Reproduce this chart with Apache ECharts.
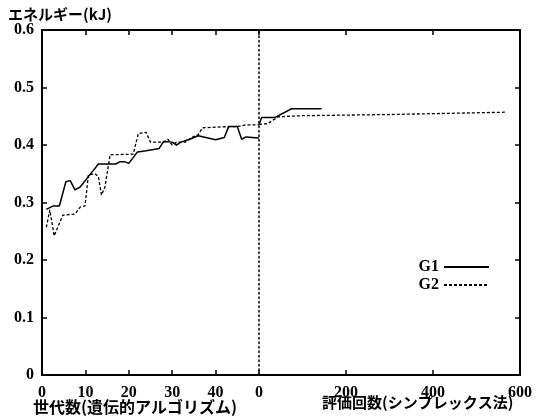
<!DOCTYPE html>
<html><head><meta charset="utf-8">
<script src="https://cdn.jsdelivr.net/npm/echarts@6/dist/echarts.min.js"></script>
<style>html,body{margin:0;padding:0;background:#fff}#c{width:544px;height:419px}</style>
</head><body><div id="c"></div>
<script>
// Genetic algorithm phase (generations)
const genG1 = [1, 2.6, 4, 5.5, 6.5, 7.6, 8.8, 11, 13, 17, 18, 19, 20, 22, 24, 27, 28, 30, 31, 32, 34, 36, 40, 42, 43, 45, 46, 47, 50];
const valG1 = [0.288, 0.294, 0.294, 0.336, 0.338, 0.322, 0.327, 0.348, 0.367, 0.367, 0.371, 0.371, 0.368, 0.388, 0.39, 0.394, 0.406, 0.405, 0.40, 0.405, 0.41, 0.416, 0.409, 0.413, 0.432, 0.432, 0.41, 0.414, 0.412];
const genG2 = [1, 1.8, 2.8, 4.8, 7.6, 8.8, 9.9, 10.7, 12.2, 13, 13.7, 14.5, 15.7, 21, 22.2, 24, 25, 28, 29, 30, 31, 33, 35, 36, 37, 43, 45, 47, 50];
const valG2 = [0.257, 0.287, 0.242, 0.278, 0.28, 0.292, 0.294, 0.348, 0.35, 0.345, 0.313, 0.327, 0.383, 0.384, 0.42, 0.422, 0.405, 0.405, 0.41, 0.40, 0.405, 0.405, 0.415, 0.418, 0.43, 0.432, 0.432, 0.435, 0.435];
// Simplex phase (evaluations)
const evalG1 = [0, 6, 37, 75, 144];
const simG1 = [0.435, 0.448, 0.448, 0.463, 0.463];
const evalG2 = [0, 20, 44, 100, 300, 565];
const simG2 = [0.436, 0.437, 0.449, 0.451, 0.453, 0.457];
const yTicks = [0, 0.1, 0.2, 0.3, 0.4, 0.5, 0.6];
const xTicksGA = [0, 10, 20, 30, 40];
const xTicksSimplex = [0, 200, 400, 600];

const zip = (a, b) => a.map((v, i) => [v, b[i]]);
const labelFont = {color: '#000', fontFamily: 'Liberation Serif', fontWeight: 'bold', fontSize: 16};
const frame = {show: true, onZero: false, lineStyle: {color: '#000', width: 2}};
const tick = {show: true, inside: true, length: 5, lineStyle: {color: '#000', width: 1.5}};

const chart = echarts.init(document.getElementById('c'));
chart.setOption({
  animation: false,
  backgroundColor: '#fff',
  grid: [
    {left: 42, width: 217, top: 30, height: 345},
    {left: 259, width: 261, top: 30, height: 345}
  ],
  xAxis: [
    {gridIndex: 0, type: 'value', position: 'bottom', min: 0, max: 50, interval: 10,
     axisLine: frame, axisTick: tick, splitLine: {show: false},
     axisLabel: Object.assign({margin: 10, showMaxLabel: false,
       formatter: v => xTicksGA.includes(v) ? String(v) : ''}, labelFont)},
    {gridIndex: 0, type: 'value', position: 'top', min: 0, max: 50, interval: 10,
     axisLine: frame, axisTick: tick, splitLine: {show: false}, axisLabel: {show: false}},
    {gridIndex: 1, type: 'value', position: 'bottom', min: 0, max: 600, interval: 200,
     axisLine: frame, axisTick: tick, splitLine: {show: false},
     axisLabel: Object.assign({margin: 10,
       formatter: v => xTicksSimplex.includes(v) ? String(v) : ''}, labelFont)},
    {gridIndex: 1, type: 'value', position: 'top', min: 0, max: 600, interval: 200,
     axisLine: frame, axisTick: tick, splitLine: {show: false}, axisLabel: {show: false}}
  ],
  yAxis: [
    {gridIndex: 0, type: 'value', position: 'left', min: 0, max: 0.6, interval: 0.1,
     axisLine: frame, axisTick: tick, splitLine: {show: false},
     axisLabel: Object.assign({margin: 8,
       formatter: v => { const t = yTicks.find(x => Math.abs(x - v) < 1e-9); return t === undefined ? '' : String(t); }}, labelFont)},
    {gridIndex: 1, type: 'value', position: 'left', min: 0, max: 0.6, interval: 0.1,
     axisLine: {show: true, onZero: false, lineStyle: {color: '#000', width: 1.5, type: [1.5, 3]}},
     axisTick: {show: false}, splitLine: {show: false}, axisLabel: {show: false}},
    {gridIndex: 1, type: 'value', position: 'right', min: 0, max: 0.6, interval: 0.1,
     axisLine: frame, axisTick: tick, splitLine: {show: false}, axisLabel: {show: false}}
  ],
  legend: {
    orient: 'vertical', right: 49, top: 254, align: 'right',
    itemWidth: 45, itemHeight: 14, itemGap: 2,
    itemStyle: {opacity: 0},
    textStyle: {color: '#000', fontFamily: 'Liberation Serif', fontWeight: 'bold', fontSize: 16},
    data: ['G1', 'G2']
  },
  series: [
    {name: 'G1', type: 'line', xAxisIndex: 0, yAxisIndex: 0, symbol: 'none',
     lineStyle: {color: '#000', width: 1.5, type: 'solid'}, itemStyle: {color: '#000'},
     data: zip(genG1, valG1)},
    {name: 'G2', type: 'line', xAxisIndex: 0, yAxisIndex: 0, symbol: 'none',
     lineStyle: {color: '#000', width: 1.3, type: [3, 2]}, itemStyle: {color: '#000'},
     data: zip(genG2, valG2)},
    {name: 'G1', type: 'line', xAxisIndex: 2, yAxisIndex: 1, symbol: 'none',
     lineStyle: {color: '#000', width: 1.5, type: 'solid'}, itemStyle: {color: '#000'},
     data: zip(evalG1, simG1)},
    {name: 'G2', type: 'line', xAxisIndex: 2, yAxisIndex: 1, symbol: 'none',
     lineStyle: {color: '#000', width: 1.3, type: [3, 2]}, itemStyle: {color: '#000'},
     data: zip(evalG2, simG2)}
  ],
  graphic: [
    {type: 'text', left: 8, top: 7,
     style: {text: 'エネルギー(kJ)', fill: '#000', font: 'bold 15px "Noto Sans CJK JP"'}},
    {type: 'text', left: 33, top: 399,
     style: {text: '世代数(遺伝的アルゴリズム)', fill: '#000', font: 'bold 16px "Noto Sans CJK JP"'}},
    {type: 'text', left: 322, top: 395,
     style: {text: '評価回数(シンプレックス法)', fill: '#000', font: 'bold 15px "Noto Sans CJK JP"'}}
  ]
});
</script>
</body></html>
